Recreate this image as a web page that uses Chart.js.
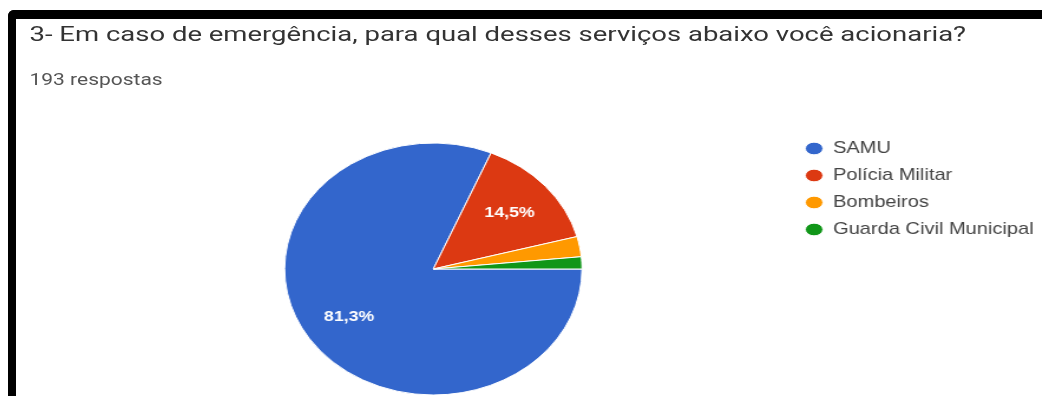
<!DOCTYPE html>
<html>
<head>
<meta charset="utf-8">
<title>Serviços de emergência</title>
<script src="https://cdn.jsdelivr.net/npm/chart.js@4.4.0/dist/chart.umd.min.js"></script>
<style>
    html, body {
        margin: 0;
        padding: 0;
        background: #fff;
        width: 1042px;
        height: 396px;
        overflow: hidden;
    }
    #frame {
        position: absolute;
        left: 8px;
        top: 10px;
        width: 1100px;
        height: 500px;
        box-sizing: border-box;
        border-top: 9px solid #000;
        border-left: 8px solid #000;
        border-top-left-radius: 6px;
        z-index: 2;
    }
    /* the screenshot is stretched sideways, so the whole drawing is too */
    #stage {
        position: absolute;
        left: 0;
        top: 0;
        width: 886px;
        height: 396px;
        overflow: hidden;
        transform: scaleX(1.18);
        transform-origin: 0 0;
    }
    #title {
        position: absolute;
        left: 25.4px;
        top: 23.7px;
        font: 20.5px Roboto, sans-serif;
        line-height: 1;
        color: #333;
        white-space: nowrap;
        transform-origin: 0 0;
    }
    #subtitle {
        position: absolute;
        left: 25.4px;
        top: 70.7px;
        font: 17px Roboto, sans-serif;
        line-height: 1;
        color: #555;
        white-space: nowrap;
        transform-origin: 0 0;
    }
    #chartBox {
        position: absolute;
        left: 0;
        top: 0;
        width: 886px;
        height: 420px;
    }
</style>
</head>
<body>
<div id="frame"></div>
<div id="stage">
    <div id="title">3- Em caso de emergência, para qual desses serviços abaixo você acionaria?</div>
    <div id="subtitle">193 respostas</div>
    <div id="chartBox"><canvas id="pieChart"></canvas></div>
</div>

<script>
//Labels and answers (193 respostas)
const services = ['SAMU', 'Polícia Militar', 'Bombeiros', 'Guarda Civil Municipal'];
const answers = [157, 28, 5, 3];
const sliceColors = ['#3366cc', '#dc3912', '#ff9900', '#109618'];

//Chart.js defaults
Chart.defaults.font.family = '"Liberation Sans", Arial, sans-serif';
Chart.defaults.color = '#444';

//stretch a text line to the width it has in the screenshot
function fitWidth(el, target) {
    el.style.transform = 'scaleX(' + (target / el.offsetWidth) + ')';
}

//percent labels inside the big slices
const sliceLabels = {
    id: 'sliceLabels',
    afterDatasetsDraw(chart) {
        const ctx = chart.ctx;
        const meta = chart.getDatasetMeta(0);
        const total = answers.reduce((a, b) => a + b, 0);
        ctx.save();
        ctx.font = 'bold 15px "Liberation Sans", Arial, sans-serif';
        ctx.fillStyle = '#fff';
        ctx.textAlign = 'center';
        ctx.textBaseline = 'middle';
        meta.data.forEach((arc, i) => {
            const pct = answers[i] / total * 100;
            if (pct < 5) {
                return;
            }
            const p = arc.getProps(['x', 'y', 'startAngle', 'endAngle', 'outerRadius'], true);
            const mid = (p.startAngle + p.endAngle) / 2;
            const r = p.outerRadius * 0.68;
            const text = pct.toFixed(1).replace('.', ',') + '%';
            ctx.fillText(text, p.x + Math.cos(mid) * r, p.y + Math.sin(mid) * r);
        });
        ctx.restore();
    }
};

document.addEventListener("DOMContentLoaded", (event) => {

    fitWidth(document.getElementById('title'), 794);
    fitWidth(document.getElementById('subtitle'), 113);

    const data = {
        labels: services,
        datasets: [{
            data: answers,
            backgroundColor: sliceColors,
            borderColor: '#fff',
            borderWidth: 1,
            radius: 126
        }]
    };

    const config = {
        type: 'pie',
        data: data,
        options: {
            responsive: true,
            maintainAspectRatio: false,
            animation: false,
            rotation: 90,
            layout: {
                padding: {
                    top: 130,
                    left: 62,
                    right: 0,
                    bottom: 12
                }
            },
            plugins: {
                legend: {
                    position: 'right',
                    align: 'start',
                    labels: {
                        usePointStyle: true,
                        pointStyle: 'circle',
                        pointStyleWidth: 15,
                        boxHeight: 9,
                        padding: 10,
                        color: '#444',
                        font: {
                            size: 17
                        }
                    }
                },
                tooltip: {
                    enabled: false
                }
            }
        },
        plugins: [sliceLabels]
    };

    new Chart(document.getElementById('pieChart'), config);
});
</script>
</body>
</html>
